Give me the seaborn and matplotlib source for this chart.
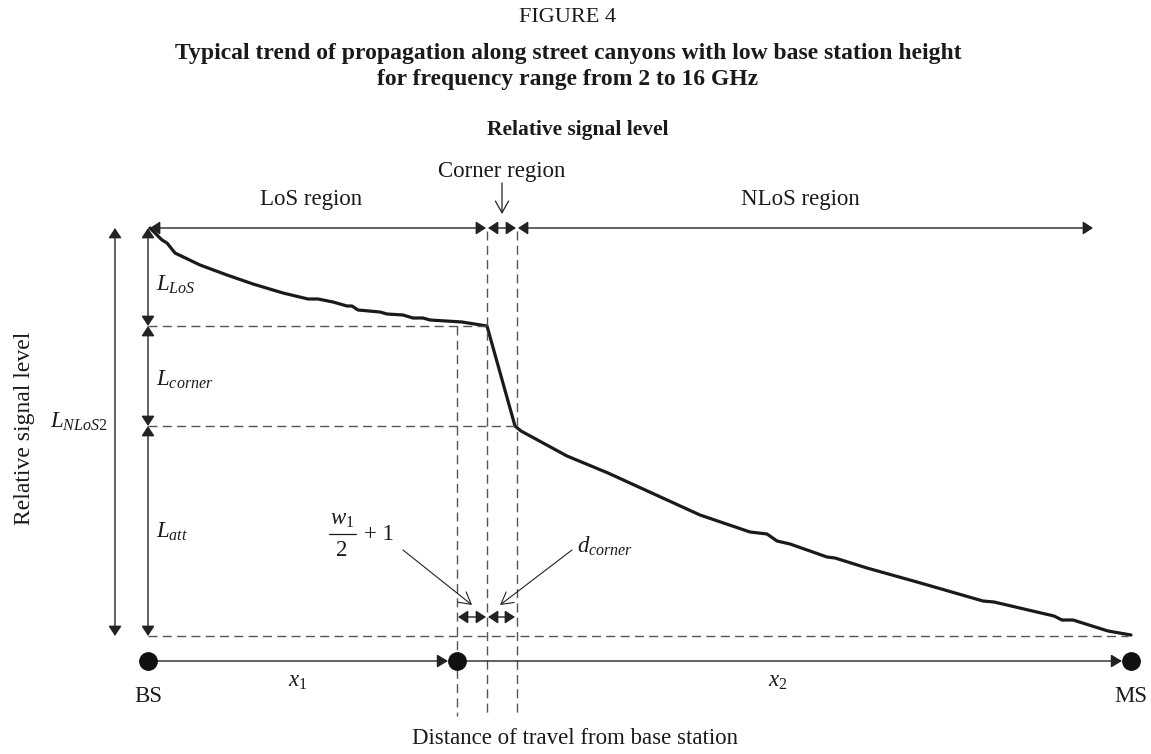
import matplotlib
matplotlib.use("Agg")
import matplotlib.pyplot as plt
import seaborn as sns
import pandas as pd

sns.set_theme(style="white")
plt.rcParams['font.family'] = ['Liberation Serif', 'DejaVu Serif']
plt.rcParams['mathtext.fontset'] = 'custom'
plt.rcParams['mathtext.rm'] = 'Liberation Serif'
plt.rcParams['mathtext.it'] = 'Liberation Serif:italic'
plt.rcParams['mathtext.bf'] = 'Liberation Serif:bold'

# ---- data (diagram coordinates) ----
curve_x = [150, 162, 167, 175, 200, 227, 253, 283, 308, 318, 333, 347, 352, 358, 380,
           387, 403, 413, 423, 430, 462, 487, 515, 521, 567, 608, 700, 750, 767, 777,
           790, 827, 835, 867, 917, 983, 994, 1054, 1062, 1073, 1108, 1131]
curve_y = [228, 240, 243, 253, 265, 275, 284, 293, 299, 299, 302, 306, 306, 310, 312,
           314, 315, 318, 318, 320, 322, 326, 426, 431, 456, 473, 515, 532, 534, 541,
           544, 557, 558, 568, 582, 601, 602, 616, 620, 620, 631, 635]

x_marks = [148, 457, 487, 517, 1131]          # BS, x1 end, corner start, corner end, MS
level_marks = [228, 326, 426, 636]            # top, LoS end, corner end, bottom
station_names = ["BS", "MS"]

W, H = 1151, 754
fig = plt.figure(figsize=(W / 100, H / 100), dpi=100)
ax = fig.add_axes([0, 0, 1, 1])

xBS, xM, xC1, xC2, xMS = x_marks
yT, yL, yC, yB = level_marks
yAx = 661

dark = "#222222"
grey = "#555555"

FULL = "<|-|>,head_length=0.55,head_width=0.36"
HEAD = "-|>,head_length=0.6,head_width=0.36"
OPEN = "->,head_length=0.6,head_width=0.34"

def darrow(x0, y0, x1, y1, style=FULL, ms=11, lw=1.0):
    ax.annotate("", xy=(x1, y1), xytext=(x0, y0),
                arrowprops=dict(arrowstyle=style, color=dark, lw=lw,
                                mutation_scale=ms, shrinkA=0, shrinkB=0))

def dline(x0, x1, y0, y1):
    ax.plot([x0, x1], [y0, y1], color=grey, lw=1.0, dashes=(6.5, 3.8))

# curve
df = pd.DataFrame({"x": curve_x, "y": curve_y})
sns.lineplot(data=df, x="x", y="y", sort=False, color="#1a1a1a", lw=2.3, ax=ax)
ax.set_xlim(0, W)
ax.set_ylim(H, 0)
ax.axis("off")

# dashed guide lines
dline(xBS, xC1, yL, yL)
dline(xBS, xC2, yC, yC)
dline(xBS, 1128, yB, yB)
dline(xM, xM, yL, 716)
dline(xC1, xC1, yT + 3, 716)
dline(xC2, xC2, yT + 3, 716)

# top region arrows
darrow(xBS + 2, yT, xC1 - 1, yT)
darrow(xC1 + 1, yT, xC2 - 1, yT)
darrow(xC2 + 1, yT, 1093, yT)
darrow(502, 183, 502, 214, style=OPEN, ms=14, lw=0.9)

# left vertical arrows
darrow(115, yT, 115, yB)
darrow(xBS, yT, xBS, yL)
darrow(xBS, yL, xBS, yC)
darrow(xBS, yC, xBS, yB)

# distance axis
darrow(xBS, yAx, xM - 9, yAx, style=HEAD)
darrow(xM, yAx, xMS - 9, yAx, style=HEAD)
ax.plot([xBS, xM, xMS], [yAx, yAx, yAx], "o", color="#111111", ms=12.5, zorder=5)

# small double arrows at bottom
darrow(xM + 1, 617, xC1 - 1, 617)
darrow(xC1 + 1, 617, xC2 - 2, 617)

# leader lines
darrow(403, 550, 472, 605, style=OPEN, ms=14, lw=0.8)
darrow(572, 550, 500, 605, style=OPEN, ms=14, lw=0.8)

# texts
tc = "#1a1a1a"
fs = 16.5
ax.text(568, 18, "FIGURE 4", ha="center", va="center", fontsize=16, color=tc)
ax.text(568, 54, "Typical trend of propagation along street canyons with low base station height",
        ha="center", va="center", fontsize=17, fontweight="bold", color=tc)
ax.text(568, 80, "for frequency range from 2 to 16 GHz",
        ha="center", va="center", fontsize=17, fontweight="bold", color=tc)
ax.text(578, 130, "Relative signal level", ha="center", va="center", fontsize=15.5,
        fontweight="bold", color=tc)

ax.text(311, 200, "LoS region", ha="center", va="center", fontsize=fs, color=tc)
ax.text(502, 172, "Corner region", ha="center", va="center", fontsize=fs, color=tc)
ax.text(800, 200, "NLoS region", ha="center", va="center", fontsize=fs, color=tc)

ax.text(25, 428, "Relative signal level", ha="center", va="center", rotation=90,
        fontsize=17, color=tc)
ax.text(575, 738, "Distance of travel from base station", ha="center", va="center",
        fontsize=fs, color=tc)
ax.text(xBS, 697, station_names[0], ha="center", va="center", fontsize=fs, color=tc)
ax.text(xMS, 697, station_names[1], ha="center", va="center", fontsize=fs, color=tc)

ax.text(298, 682, r"$x_1$", ha="center", va="center", fontsize=fs, color=tc)
ax.text(778, 682, r"$x_2$", ha="center", va="center", fontsize=fs, color=tc)

ax.text(156, 285, r"$L_{LoS}$", ha="left", va="center", fontsize=fs, color=tc)
ax.text(156, 380, r"$L_{corner}$", ha="left", va="center", fontsize=fs, color=tc)
ax.text(156, 532, r"$L_{att}$", ha="left", va="center", fontsize=fs, color=tc)
ax.text(50, 422, r"$L_{NLoS2}$", ha="left", va="center", fontsize=fs, color=tc)

# fraction  w1/2 + 1
ax.text(342, 520, r"$w_1$", ha="center", va="center", fontsize=fs, color=tc)
ax.plot([329, 356], [534, 534], color=tc, lw=0.9)
ax.text(342, 550, "2", ha="center", va="center", fontsize=fs, color=tc)
ax.text(379, 535, "+ 1", ha="center", va="center", fontsize=fs, color=tc)

ax.text(577, 546, r"$d_{corner}$", ha="left", va="center", fontsize=fs, color=tc)

fig.savefig("out.png", dpi=100, facecolor="white")
